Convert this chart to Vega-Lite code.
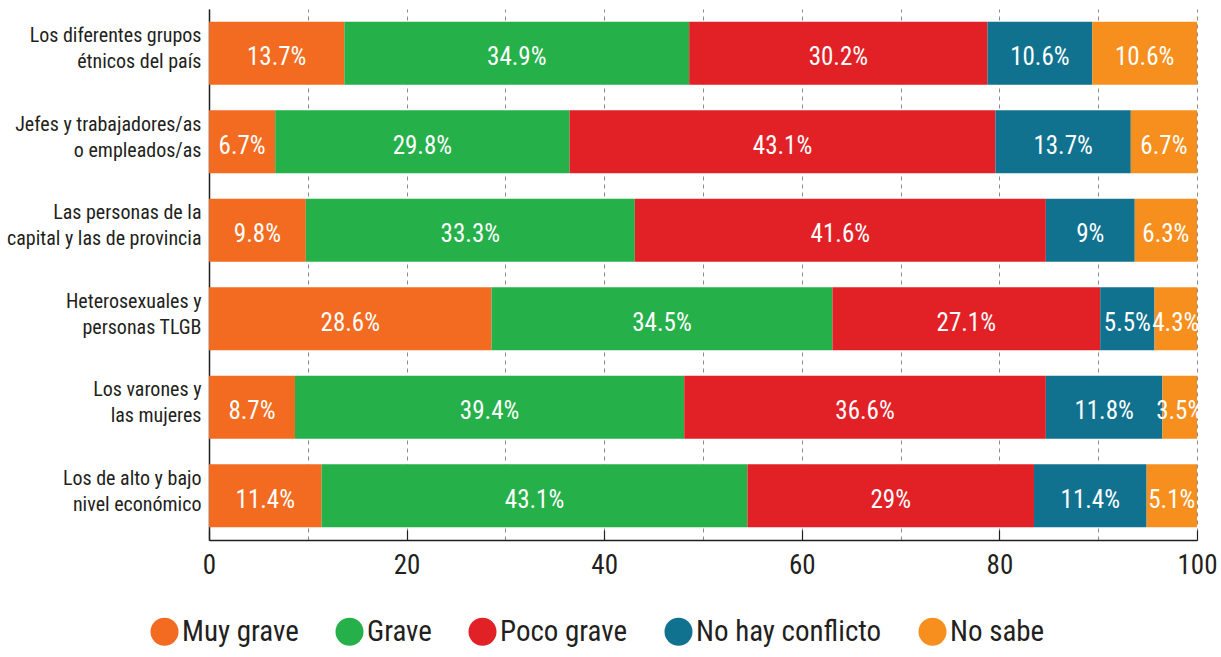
{
  "$schema": "https://vega.github.io/schema/vega-lite/v6.json",
  "autosize": {"type": "none"},
  "padding": {"left": 209, "top": 9, "right": 24, "bottom": 117},
  "width": 988,
  "height": 531,
  "background": "white",
  "config": {
    "view": {"stroke": null},
    "font": "Roboto Condensed, DejaVu Sans Condensed, Liberation Sans Narrow, sans-serif"
  },
  "data": {
    "values": [
      {"grupo": "Los diferentes grupos|étnicos del país", "nivel": "Muy grave", "orden": 1, "valor": 13.7},
      {"grupo": "Los diferentes grupos|étnicos del país", "nivel": "Grave", "orden": 2, "valor": 34.9},
      {"grupo": "Los diferentes grupos|étnicos del país", "nivel": "Poco grave", "orden": 3, "valor": 30.2},
      {"grupo": "Los diferentes grupos|étnicos del país", "nivel": "No hay conflicto", "orden": 4, "valor": 10.6},
      {"grupo": "Los diferentes grupos|étnicos del país", "nivel": "No sabe", "orden": 5, "valor": 10.6},
      {"grupo": "Jefes y trabajadores/as|o empleados/as", "nivel": "Muy grave", "orden": 1, "valor": 6.7},
      {"grupo": "Jefes y trabajadores/as|o empleados/as", "nivel": "Grave", "orden": 2, "valor": 29.8},
      {"grupo": "Jefes y trabajadores/as|o empleados/as", "nivel": "Poco grave", "orden": 3, "valor": 43.1},
      {"grupo": "Jefes y trabajadores/as|o empleados/as", "nivel": "No hay conflicto", "orden": 4, "valor": 13.7},
      {"grupo": "Jefes y trabajadores/as|o empleados/as", "nivel": "No sabe", "orden": 5, "valor": 6.7},
      {"grupo": "Las personas de la|capital y las de provincia", "nivel": "Muy grave", "orden": 1, "valor": 9.8},
      {"grupo": "Las personas de la|capital y las de provincia", "nivel": "Grave", "orden": 2, "valor": 33.3},
      {"grupo": "Las personas de la|capital y las de provincia", "nivel": "Poco grave", "orden": 3, "valor": 41.6},
      {"grupo": "Las personas de la|capital y las de provincia", "nivel": "No hay conflicto", "orden": 4, "valor": 9},
      {"grupo": "Las personas de la|capital y las de provincia", "nivel": "No sabe", "orden": 5, "valor": 6.3},
      {"grupo": "Heterosexuales y|personas TLGB", "nivel": "Muy grave", "orden": 1, "valor": 28.6},
      {"grupo": "Heterosexuales y|personas TLGB", "nivel": "Grave", "orden": 2, "valor": 34.5},
      {"grupo": "Heterosexuales y|personas TLGB", "nivel": "Poco grave", "orden": 3, "valor": 27.1},
      {"grupo": "Heterosexuales y|personas TLGB", "nivel": "No hay conflicto", "orden": 4, "valor": 5.5},
      {"grupo": "Heterosexuales y|personas TLGB", "nivel": "No sabe", "orden": 5, "valor": 4.3},
      {"grupo": "Los varones y|las mujeres", "nivel": "Muy grave", "orden": 1, "valor": 8.7},
      {"grupo": "Los varones y|las mujeres", "nivel": "Grave", "orden": 2, "valor": 39.4},
      {"grupo": "Los varones y|las mujeres", "nivel": "Poco grave", "orden": 3, "valor": 36.6},
      {"grupo": "Los varones y|las mujeres", "nivel": "No hay conflicto", "orden": 4, "valor": 11.8},
      {"grupo": "Los varones y|las mujeres", "nivel": "No sabe", "orden": 5, "valor": 3.5},
      {"grupo": "Los de alto y bajo|nivel económico", "nivel": "Muy grave", "orden": 1, "valor": 11.4},
      {"grupo": "Los de alto y bajo|nivel económico", "nivel": "Grave", "orden": 2, "valor": 43.1},
      {"grupo": "Los de alto y bajo|nivel económico", "nivel": "Poco grave", "orden": 3, "valor": 29},
      {"grupo": "Los de alto y bajo|nivel económico", "nivel": "No hay conflicto", "orden": 4, "valor": 11.4},
      {"grupo": "Los de alto y bajo|nivel económico", "nivel": "No sabe", "orden": 5, "valor": 5.1}
    ]
  },
  "encoding": {
    "y": {
      "field": "grupo",
      "type": "nominal",
      "sort": null,
      "scale": {"paddingInner": 0.29, "paddingOuter": 0.145},
      "axis": {
        "title": null,
        "domain": true,
        "domainColor": "#231f20",
        "domainWidth": 1.5,
        "ticks": false,
        "grid": false,
        "labelExpr": "split(datum.label, '|')",
        "labelFontSize": 20,
        "labelLineHeight": 26,
        "labelColor": "#231f20",
        "labelPadding": 8,
        "labelOffset": -17,
        "labelLimit": 300
      }
    },
    "order": {"field": "orden", "type": "quantitative"}
  },
  "layer": [
    {
      "mark": {"type": "bar"},
      "encoding": {
        "x": {
          "field": "valor",
          "type": "quantitative",
          "stack": "zero",
          "scale": {"domain": [0, 100], "nice": false},
          "axis": {
            "title": null,
            "values": [0, 10, 20, 30, 40, 50, 60, 70, 80, 90, 100],
            "labelExpr": "datum.value % 20 === 0 ? datum.label : ''",
            "grid": true,
            "gridDash": [4, 4],
            "gridColor": "#8a8a8a",
            "gridWidth": 1,
            "domainColor": "#231f20",
            "domainWidth": 1.5,
            "tickColor": {"condition": {"test": "datum.value % 20 === 0", "value": "#231f20"}, "value": "transparent"},
            "tickSize": -10,
            "tickWidth": 1.2,
            "labelFontSize": 27,
            "labelColor": "#231f20",
            "labelPadding": 22,
            "labelFlush": false
          }
        },
        "color": {
          "field": "nivel",
          "type": "nominal",
          "scale": {
            "domain": ["Muy grave", "Grave", "Poco grave", "No hay conflicto", "No sabe"],
            "range": ["#f26b21", "#25b04a", "#e22127", "#10728f", "#f78f1e"]
          },
          "legend": {
            "title": null,
            "orient": "none",
            "legendX": -59,
            "legendY": 608,
            "direction": "horizontal",
            "symbolType": "circle",
            "symbolSize": 784,
            "symbolStrokeWidth": 0,
            "symbolOpacity": 1,
            "labelFontSize": 29,
            "labelColor": "#231f20",
            "labelOffset": 3,
            "columnPadding": 36,
            "labelLimit": 300
          }
        }
      }
    },
    {
      "mark": {
        "type": "text",
        "color": "white",
        "fontSize": 25,
        "align": "center",
        "baseline": "middle",
        "dy": 4,
        "text": {"expr": "datum.valor + '%'"}
      },
      "encoding": {
        "x": {"field": "valor", "type": "quantitative", "stack": "zero", "bandPosition": 0.5}
      }
    }
  ]
}
